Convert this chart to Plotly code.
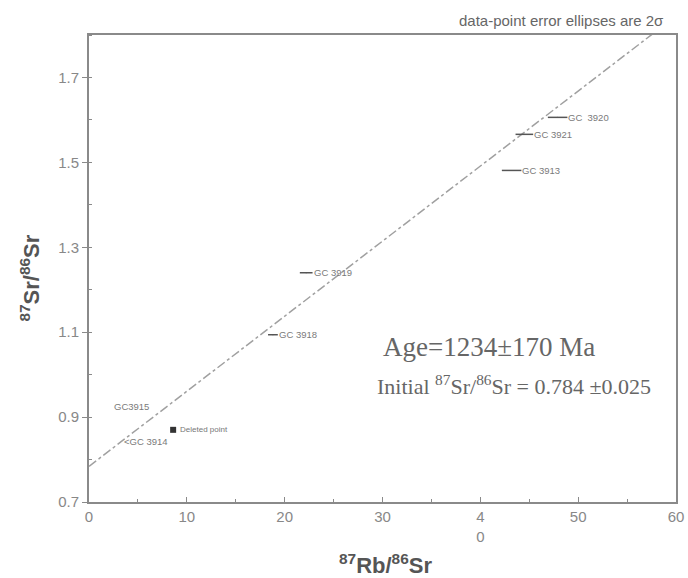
import plotly.graph_objects as go

# Data
sample_labels = ["GC  3920", "GC 3921", "GC 3913", "GC 3919", "GC 3918"]
rb_sr = [47.9, 44.5, 43.2, 22.2, 18.8]
sr_sr = [1.606, 1.566, 1.481, 1.240, 1.094]
rb_err = [1.0, 0.9, 1.0, 0.65, 0.5]

gc3914_x = [3.4]
gc3914_y = [0.842]
gc3915_x = [2.3]
gc3915_y = [0.926]

deleted_x = [8.6]
deleted_y = [0.870]

iso_x = [0, 60]
intercept = 0.784
slope = 0.01768
iso_y = [intercept, intercept + slope * 60]

x_ticks = [0, 10, 20, 30, 40, 50, 60]
x_ticktext = ["0", "10", "20", "30", "4<br>0", "50", "60"]
y_ticks = [0.7, 0.9, 1.1, 1.3, 1.5, 1.7]

grey = "#8a8a8a"
sans = "Liberation Sans, Arial"
serif = "Liberation Serif, Times New Roman"
fig = go.Figure()

fig.add_trace(go.Scatter(x=iso_x, y=iso_y, mode="lines",
                         line=dict(color="#a0a0a0", width=1.5, dash="dashdot"),
                         hoverinfo="skip", showlegend=False))

fig.add_trace(go.Scatter(x=rb_sr, y=sr_sr, mode="markers",
                         marker=dict(size=1, color="#555"),
                         error_x=dict(type="data", array=rb_err, color="#555",
                                      thickness=1.5, width=0),
                         showlegend=False))

fig.add_trace(go.Scatter(x=deleted_x, y=deleted_y, mode="markers",
                         marker=dict(symbol="square", size=6, color="#333"),
                         showlegend=False))

lab_font = dict(family=sans, size=9.5, color="#7a7a7a")
ann = []
for lab, x, y, e in zip(sample_labels, rb_sr, sr_sr, rb_err):
    ann.append(dict(x=x + e, y=y, text=lab, showarrow=False, xanchor="left",
                    xshift=-1, font=lab_font))
ann.append(dict(x=gc3914_x[0], y=gc3914_y[0], text="&lt;GC 3914", showarrow=False,
                xanchor="left", font=lab_font))
ann.append(dict(x=gc3915_x[0], y=gc3915_y[0], text="GC3915", showarrow=False,
                xanchor="left", font=lab_font))
ann.append(dict(x=deleted_x[0], y=deleted_y[0], text="Deleted point", showarrow=False,
                xanchor="left", xshift=5, font=dict(family=sans, size=8, color="#777")))
ann.append(dict(x=40.9, y=1.066, xref="x", yref="y", text="Age=1234±170 Ma", showarrow=False,
                xanchor="center", font=dict(family=serif, size=27, color="#666")))
ann.append(dict(x=43.4, y=0.976, xref="x", yref="y",
                text="Initial <sup>87</sup>Sr/<sup>86</sup>Sr = 0.784 ±0.025", showarrow=False,
                xanchor="center", font=dict(family=serif, size=22, color="#666")))
ann.append(dict(x=1, y=1.0, xref="paper", yref="paper", yanchor="bottom", xanchor="right",
                text="data-point error ellipses are 2σ", showarrow=False, yshift=4, xshift=-10,
                font=dict(family=sans, size=15, color="#666")))
ann.append(dict(x=0.5, y=0, xref="paper", yref="paper", yanchor="middle", xanchor="center",
                text="<b><sup>87</sup>Rb/<sup>86</sup>Sr</b>", showarrow=False, yshift=-62, xshift=3,
                font=dict(family=sans, size=22, color="#555")))
ann.append(dict(x=0, y=0.5, xref="paper", yref="paper", yanchor="middle", xanchor="center",
                text="<b><sup>87</sup>Sr/<sup>86</sup>Sr</b>", showarrow=False, xshift=-60, yshift=-10,
                textangle=-90, font=dict(family=sans, size=22, color="#555")))

fig.update_layout(
    width=688, height=578,
    margin=dict(l=89, r=12, t=35, b=76, autoexpand=False),
    paper_bgcolor="white", plot_bgcolor="white",
    annotations=ann,
    xaxis=dict(range=[0, 60], tickvals=x_ticks, ticktext=x_ticktext, automargin=False,
               showgrid=False, zeroline=False, showline=True, linecolor=grey, linewidth=2,
               mirror=True, ticks="inside", ticklen=5, tickcolor=grey,
               minor=dict(dtick=5, ticks="inside", ticklen=3, tickcolor=grey),
               tickfont=dict(family=sans, size=15, color="#888")),
    yaxis=dict(range=[0.7, 1.8], tickvals=y_ticks, automargin=False,
               showgrid=False, zeroline=False, showline=True, linecolor=grey, linewidth=2,
               mirror=True, ticks="outside", ticklen=5, tickcolor=grey,
               minor=dict(dtick=0.1, ticks="inside", ticklen=3, tickcolor=grey),
               tickfont=dict(family=sans, size=15, color="#888")),
)

fig.write_html("out.html", config={"displayModeBar": False},
               post_script="document.body.style.margin='0';document.body.style.overflow='hidden';")
